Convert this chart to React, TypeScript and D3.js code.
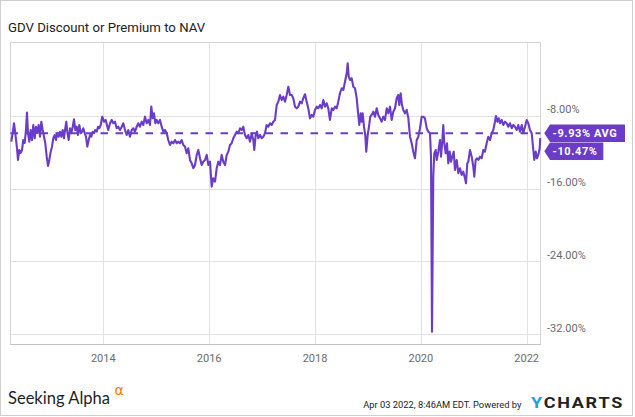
import React from "react";
import * as d3 from "d3";

const TITLE = "GDV Discount or Premium to NAV";

// decimal-year dates of each observation
const dateYears = [
  2012.262, 2012.288, 2012.313, 2012.337, 2012.369, 2012.388, 2012.413, 2012.439, 2012.464, 2012.488,
  2012.515, 2012.539, 2012.558, 2012.577, 2012.602, 2012.628, 2012.653, 2012.677, 2012.704, 2012.728,
  2012.753, 2012.779, 2012.804, 2012.829, 2012.855, 2012.88, 2012.904, 2012.931, 2012.955, 2012.98,
  2013.006, 2013.031, 2013.055, 2013.082, 2013.106, 2013.131, 2013.157, 2013.182, 2013.206, 2013.233,
  2013.257, 2013.282, 2013.301, 2013.32, 2013.346, 2013.371, 2013.395, 2013.422, 2013.446, 2013.471,
  2013.497, 2013.522, 2013.547, 2013.573, 2013.598, 2013.622, 2013.649, 2013.673, 2013.698, 2013.724,
  2013.749, 2013.773, 2013.8, 2013.824, 2013.849, 2013.875, 2013.9, 2013.924, 2013.951, 2013.981,
  2014.013, 2014.045, 2014.076, 2014.094, 2014.127, 2014.159, 2014.189, 2014.221, 2014.253, 2014.283,
  2014.316, 2014.348, 2014.378, 2014.41, 2014.442, 2014.472, 2014.504, 2014.537, 2014.567, 2014.599,
  2014.631, 2014.661, 2014.693, 2014.726, 2014.756, 2014.788, 2014.82, 2014.85, 2014.882, 2014.907,
  2014.933, 2014.958, 2014.983, 2015.009, 2015.039, 2015.071, 2015.103, 2015.134, 2015.166, 2015.198,
  2015.228, 2015.26, 2015.292, 2015.323, 2015.355, 2015.387, 2015.417, 2015.449, 2015.481, 2015.512,
  2015.544, 2015.576, 2015.606, 2015.638, 2015.67, 2015.701, 2015.733, 2015.765, 2015.795, 2015.827,
  2015.859, 2015.889, 2015.922, 2015.954, 2015.984, 2016.016, 2016.048, 2016.078, 2016.111, 2016.143,
  2016.173, 2016.205, 2016.237, 2016.267, 2016.3, 2016.332, 2016.362, 2016.394, 2016.426, 2016.456,
  2016.488, 2016.521, 2016.551, 2016.583, 2016.615, 2016.645, 2016.677, 2016.71, 2016.74, 2016.772,
  2016.804, 2016.834, 2016.853, 2016.88, 2016.904, 2016.929, 2016.961, 2016.993, 2017.023, 2017.055,
  2017.087, 2017.118, 2017.15, 2017.182, 2017.212, 2017.244, 2017.276, 2017.307, 2017.339, 2017.371,
  2017.401, 2017.433, 2017.465, 2017.496, 2017.528, 2017.56, 2017.59, 2017.622, 2017.654, 2017.685,
  2017.717, 2017.749, 2017.779, 2017.811, 2017.843, 2017.873, 2017.906, 2017.938, 2017.968, 2018.0,
  2018.032, 2018.062, 2018.095, 2018.127, 2018.157, 2018.189, 2018.221, 2018.251, 2018.283, 2018.316,
  2018.346, 2018.378, 2018.41, 2018.44, 2018.472, 2018.505, 2018.535, 2018.567, 2018.599, 2018.618,
  2018.637, 2018.661, 2018.693, 2018.724, 2018.756, 2018.788, 2018.818, 2018.837, 2018.864, 2018.882,
  2018.901, 2018.926, 2018.95, 2018.969, 2018.996, 2019.02, 2019.045, 2019.071, 2019.102, 2019.134,
  2019.166, 2019.196, 2019.228, 2019.26, 2019.291, 2019.323, 2019.355, 2019.385, 2019.417, 2019.449,
  2019.48, 2019.512, 2019.544, 2019.574, 2019.593, 2019.619, 2019.644, 2019.668, 2019.701, 2019.733,
  2019.763, 2019.795, 2019.827, 2019.857, 2019.889, 2019.922, 2019.952, 2019.984, 2020.016, 2020.046,
  2020.078, 2020.111, 2020.141, 2020.173, 2020.192, 2020.211, 2020.235, 2020.254, 2020.281, 2020.3,
  2020.33, 2020.362, 2020.381, 2020.405, 2020.424, 2020.443, 2020.47, 2020.494, 2020.519, 2020.545,
  2020.57, 2020.594, 2020.621, 2020.645, 2020.677, 2020.708, 2020.74, 2020.772, 2020.802, 2020.834,
  2020.853, 2020.878, 2020.897, 2020.929, 2020.961, 2020.991, 2021.01, 2021.036, 2021.061, 2021.086,
  2021.118, 2021.15, 2021.18, 2021.212, 2021.244, 2021.274, 2021.307, 2021.339, 2021.369, 2021.401,
  2021.42, 2021.445, 2021.471, 2021.496, 2021.528, 2021.558, 2021.59, 2021.622, 2021.652, 2021.685,
  2021.717, 2021.747, 2021.779, 2021.811, 2021.841, 2021.874, 2021.906, 2021.936, 2021.968, 2022.0,
  2022.03, 2022.062, 2022.095, 2022.125, 2022.144, 2022.17, 2022.195, 2022.219, 2022.246, 2022.257,
];

// discount (-) / premium (+) to NAV, percent
const discount = [
  -10.85, -9.9, -8.83, -9.9, -11.55, -12.86, -11.77, -12.09, -11.77, -10.67,
  -11.0, -9.57, -7.67, -9.9, -10.85, -9.57, -10.67, -9.02, -10.48, -9.21,
  -9.9, -9.02, -10.31, -8.66, -9.57, -10.31, -11.03, -12.5, -13.52, -12.86,
  -11.95, -11.4, -10.48, -10.12, -10.67, -9.93, -10.31, -9.76, -10.31, -9.57,
  -10.48, -9.38, -8.66, -9.76, -10.67, -9.38, -9.93, -9.21, -8.4, -9.57,
  -9.21, -10.12, -9.02, -9.93, -9.76, -9.38, -9.93, -10.31, -11.4, -10.67,
  -10.12, -10.31, -9.76, -9.93, -9.57, -9.76, -9.21, -9.38, -9.02, -8.11,
  -8.66, -8.47, -9.21, -9.57, -8.83, -8.47, -8.83, -8.66, -9.38, -9.21,
  -9.57, -9.21, -8.83, -9.57, -10.12, -9.57, -10.31, -9.57, -9.38, -9.76,
  -9.21, -8.83, -9.21, -8.66, -9.02, -8.11, -8.83, -8.47, -9.02, -7.01,
  -8.29, -7.74, -8.83, -8.47, -8.83, -8.47, -9.21, -9.76, -9.57, -9.93,
  -10.67, -11.22, -10.85, -11.03, -10.67, -11.03, -10.85, -11.03, -10.67, -11.22,
  -11.4, -12.13, -11.58, -12.86, -13.23, -13.77, -13.41, -12.31, -11.77, -12.68,
  -13.41, -13.05, -12.86, -12.31, -13.41, -13.05, -15.79, -14.87, -15.24, -13.77,
  -13.05, -13.41, -12.31, -13.05, -13.41, -12.31, -11.95, -11.22, -11.03, -10.48,
  -10.12, -9.76, -9.93, -9.38, -9.57, -9.21, -10.12, -10.48, -10.12, -10.85,
  -9.93, -10.67, -11.77, -10.12, -9.76, -10.48, -10.12, -10.48, -10.31, -9.93,
  -9.02, -9.21, -8.83, -9.02, -8.66, -8.47, -6.83, -6.46, -5.73, -6.28,
  -5.91, -6.46, -5.73, -4.82, -5.73, -5.73, -6.09, -7.01, -7.19, -7.01,
  -6.46, -6.64, -6.09, -5.65, -6.46, -7.19, -8.29, -7.92, -8.11, -7.37,
  -7.01, -7.19, -6.83, -7.19, -6.28, -7.01, -6.64, -7.19, -8.47, -7.19,
  -7.37, -7.01, -7.19, -6.46, -5.54, -4.99, -5.18, -4.27, -3.35, -2.25,
  -3.72, -4.08, -3.89, -4.82, -4.99, -6.09, -7.92, -9.02, -7.74, -8.66,
  -7.74, -9.21, -10.12, -11.95, -10.12, -9.21, -8.11, -7.92, -7.56, -8.11,
  -7.19, -7.92, -8.29, -8.66, -8.11, -8.47, -7.19, -7.74, -7.01, -8.47,
  -7.56, -7.19, -6.09, -5.73, -6.83, -5.54, -6.83, -7.37, -7.74, -7.37,
  -8.25, -10.31, -11.03, -11.95, -12.68, -10.67, -10.31, -9.38, -8.11, -8.11,
  -8.29, -9.38, -9.76, -9.93, -12.5, -31.71, -14.7, -12.13, -11.77, -12.86,
  -11.95, -10.67, -12.5, -10.85, -9.02, -11.03, -12.13, -11.03, -13.23, -11.95,
  -13.05, -12.5, -11.95, -13.96, -12.86, -14.32, -13.77, -14.51, -14.15, -14.87,
  -15.42, -13.23, -13.05, -11.77, -12.5, -13.6, -14.7, -12.86, -12.68, -12.86,
  -12.5, -12.68, -11.77, -11.95, -11.03, -10.31, -10.67, -9.93, -9.57, -8.66,
  -8.03, -8.66, -8.29, -8.83, -8.47, -9.02, -8.66, -8.83, -9.21, -8.83,
  -9.38, -9.02, -9.21, -9.57, -9.02, -9.76, -9.02, -9.93, -9.21, -8.47,
  -8.83, -9.57, -9.93, -11.77, -12.86, -11.95, -12.68, -12.31, -11.58, -10.47,
];

const AVG_VALUE = -9.93;
const LAST_VALUE = -10.47;
const yTickValues = [-8, -16, -24, -32];
const xTickValues = [2014, 2016, 2018, 2020, 2022];
const STAMP = "Apr 03 2022, 8:46AM EDT.  Powered by";

const PURPLE = "#6a3cc8";

export default function App() {
  const W = 635;
  const H = 417;
  const left = 10.5, right = 540.5, top = 42.5, bottom = 344.5;

  const x = d3.scaleLinear().domain([2012.256, 2022.261]).range([11, 540.5]);
  const y = d3.scaleLinear().domain([-33.12, 0]).range([344.5, 42.8]);

  const idx = d3.range(discount.length);
  const line = d3
    .line<number>()
    .x((i) => x(dateYears[i]))
    .y((i) => y(discount[i]));

  const fmt = (v: number) => v.toFixed(2) + "%";

  const avgY = y(AVG_VALUE);
  const lastY = avgY + 18;
  const tipX = 544.3;
  const bodyX = 550;
  const labelPath = (cy: number, w: number) => {
    const h = 17.4;
    return `M${tipX},${cy} L${bodyX},${cy - h / 2} L${bodyX + w},${cy - h / 2} L${bodyX + w},${cy + h / 2} L${bodyX},${cy + h / 2} Z`;
  };

  return (
    <svg
      width={W}
      height={H}
      style={{ position: "absolute", left: 0, top: 0, background: "#fff" }}
      fontFamily="Roboto, sans-serif"
    >
      <rect x={0.5} y={0.5} width={632} height={415} fill="#fff" stroke="#cfcfcf" />
      <text x={8} y={32} fontSize={13.2} fill="#222">
        {TITLE}
      </text>

      {/* grid */}
      {yTickValues.map((t) => (
        <line key={"gy" + t} x1={left} x2={right} y1={Math.round(y(t)) + 0.5} y2={Math.round(y(t)) + 0.5} stroke="#e2e2e2" />
      ))}
      {xTickValues.map((t) => (
        <line key={"gx" + t} x1={Math.round(x(t)) + 0.5} x2={Math.round(x(t)) + 0.5} y1={top} y2={bottom} stroke="#e2e2e2" />
      ))}
      <rect x={left} y={top} width={right - left} height={bottom - top} fill="none" stroke="#d4d4d4" />
      <line x1={left} x2={right} y1={bottom} y2={bottom} stroke="#c4c4c4" />

      {/* axis labels */}
      {yTickValues.map((t) => (
        <text key={"ty" + t} x={547} y={y(t) - 2.5} fontSize={11} fill="#6b6b6b">
          {fmt(t)}
        </text>
      ))}
      {xTickValues.map((t) => (
        <text key={"tx" + t} x={x(t)} y={362} fontSize={11} fill="#6b6b6b" textAnchor="middle">
          {t}
        </text>
      ))}

      {/* series */}
      <path d={line(idx) || ""} fill="none" stroke={PURPLE} strokeWidth={2.1} strokeLinejoin="round" />
      <line x1={left} x2={right} y1={avgY} y2={avgY} stroke={PURPLE} strokeWidth={2} strokeDasharray="7.5 7.5" />

      {/* value labels */}
      <path d={labelPath(avgY, 75)} fill={PURPLE} />
      <text x={552.5} y={avgY + 4} fontSize={11} fontWeight="bold" fill="#fff" letterSpacing={0.6}>
        {fmt(AVG_VALUE) + " AVG"}
      </text>
      <path d={labelPath(lastY, 53.3)} fill={PURPLE} />
      <text x={552.5} y={lastY + 4} fontSize={11} fontWeight="bold" fill="#fff" letterSpacing={0.6}>
        {fmt(LAST_VALUE)}
      </text>

      {/* footer */}
      <text x={8} y={404.3} fontSize={17.5} fill="#1f1f1f" fontFamily="Lato, sans-serif" textLength={102} lengthAdjust="spacingAndGlyphs">
        Seeking Alpha
      </text>
      <text x={114.5} y={395} fontSize={14} fill="#f47c00" fontFamily="'DejaVu Sans', sans-serif">
        α
      </text>
      <text x={363.3} y={408} fontSize={9.8} fill="#222" textLength={158} lengthAdjust="spacingAndGlyphs">
        {STAMP}
      </text>
      <text x={531} y={408} fontSize={15.5} fontWeight="bold" letterSpacing={1.5} textLength={93} lengthAdjust="spacingAndGlyphs">
        <tspan fill="#1aa1e1">Y</tspan>
        <tspan fill="#222">CHARTS</tspan>
      </text>
    </svg>
  );
}
